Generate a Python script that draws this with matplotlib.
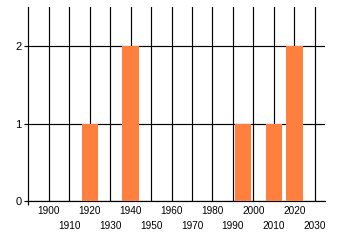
import matplotlib
matplotlib.use("Agg")
import matplotlib.pyplot as plt
from matplotlib.ticker import FixedLocator

years = [1920, 1940, 1995, 2010, 2020]
counts = [1, 2, 1, 1, 2]
decades = list(range(1900, 2031, 10))
tick_labels = [str(d) if i % 2 == 0 else "\n" + str(d) for i, d in enumerate(decades)]
y_ticks = [0, 1, 2]

plt.rcParams['font.family'] = ['Liberation Sans', 'DejaVu Sans']

fig = plt.figure(figsize=(3.4, 2.45), dpi=100)
ax = fig.add_axes([0.0833, 0.178, 0.956 - 0.0833, 0.970 - 0.178])

ax.bar(years, counts, width=8, color='#FF7F3F', zorder=3)

lw = 0.85
ax.set_xlim(1890, 2035)
ax.set_ylim(0, 2.5)
ax.set_xticks(decades)
ax.set_xticklabels(tick_labels, fontsize=7.2, linespacing=1.7)
ax.xaxis.set_minor_locator(FixedLocator([1890] + decades[1::2]))
ax.tick_params(axis='x', which='major', length=0, pad=3)
ax.tick_params(axis='x', which='minor', length=3, width=lw, color='black')
ax.set_yticks(y_ticks)
ax.set_yticklabels([str(v) for v in y_ticks], fontsize=8)
ax.tick_params(axis='y', length=3, width=lw, color='black', pad=2)

ax.grid(True, which='major', color='black', linewidth=lw, zorder=1)
ax.set_axisbelow(True)
for s in ['top', 'right']:
    ax.spines[s].set_visible(False)
for s in ['left', 'bottom']:
    ax.spines[s].set_linewidth(lw)
    ax.spines[s].set_color('black')

fig.savefig('out.png', dpi=100)
